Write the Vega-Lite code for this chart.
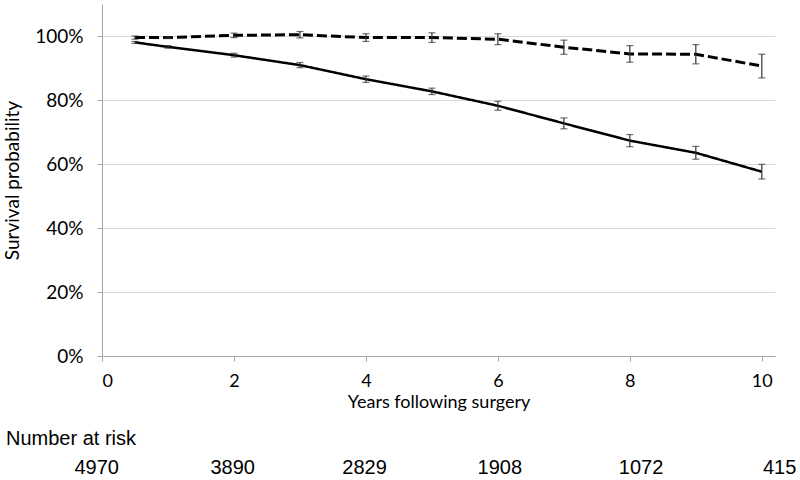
{
  "$schema": "https://vega.github.io/schema/vega-lite/v6.json",
  "padding": {"left": 3, "top": 4, "right": 0, "bottom": 0},
  "background": "white",
  "config": {"view": {"stroke": null}, "concat": {"spacing": 18}},
  "datasets": {
    "surv": [
      {"year": 0.5, "group": "Group A", "s": 0.980, "lo": 0.977, "hi": 0.983},
      {"year": 1, "group": "Group A", "s": 0.966, "lo": 0.962, "hi": 0.970},
      {"year": 2, "group": "Group A", "s": 0.940, "lo": 0.934, "hi": 0.946},
      {"year": 3, "group": "Group A", "s": 0.909, "lo": 0.901, "hi": 0.917},
      {"year": 4, "group": "Group A", "s": 0.865, "lo": 0.855, "hi": 0.875},
      {"year": 5, "group": "Group A", "s": 0.827, "lo": 0.817, "hi": 0.837},
      {"year": 6, "group": "Group A", "s": 0.782, "lo": 0.768, "hi": 0.796},
      {"year": 7, "group": "Group A", "s": 0.727, "lo": 0.710, "hi": 0.744},
      {"year": 8, "group": "Group A", "s": 0.673, "lo": 0.654, "hi": 0.692},
      {"year": 9, "group": "Group A", "s": 0.635, "lo": 0.615, "hi": 0.655},
      {"year": 10, "group": "Group A", "s": 0.576, "lo": 0.553, "hi": 0.599},
      {"year": 0.5, "group": "Group B", "s": 0.995, "lo": 0.990, "hi": 1.000},
      {"year": 1, "group": "Group B", "s": 0.995, "lo": 0.992, "hi": 0.998},
      {"year": 2, "group": "Group B", "s": 1.002, "lo": 0.995, "hi": 1.009},
      {"year": 3, "group": "Group B", "s": 1.004, "lo": 0.994, "hi": 1.014},
      {"year": 4, "group": "Group B", "s": 0.995, "lo": 0.983, "hi": 1.007},
      {"year": 5, "group": "Group B", "s": 0.995, "lo": 0.980, "hi": 1.010},
      {"year": 6, "group": "Group B", "s": 0.990, "lo": 0.973, "hi": 1.007},
      {"year": 7, "group": "Group B", "s": 0.965, "lo": 0.943, "hi": 0.987},
      {"year": 8, "group": "Group B", "s": 0.944, "lo": 0.918, "hi": 0.970},
      {"year": 9, "group": "Group B", "s": 0.943, "lo": 0.913, "hi": 0.973},
      {"year": 10, "group": "Group B", "s": 0.906, "lo": 0.869, "hi": 0.943}
    ],
    "risk": [
      {"pos": -0.08, "n": "4970"},
      {"pos": 1.98, "n": "3890"},
      {"pos": 3.98, "n": "2829"},
      {"pos": 6.03, "n": "1908"},
      {"pos": 8.17, "n": "1072"},
      {"pos": 10.27, "n": "415"}
    ]
  },
  "vconcat": [
    {
      "width": 673,
      "height": 352,
      "data": {"name": "surv"},
      "encoding": {
        "x": {
          "field": "year", "type": "quantitative",
          "scale": {"domain": [0, 10.2], "nice": false, "zero": false},
          "axis": {
            "values": [0, 2, 4, 6, 8, 10], "title": "Years following surgery",
            "grid": false, "domainColor": "#a6a6a6", "tickColor": "#a6a6a6", "tickSize": 5,
            "labelFont": "Lato", "labelFontSize": 18, "labelColor": "#000", "labelPadding": 11,
            "titleFont": "Lato", "titleFontSize": 18, "titleFontWeight": "normal", "titleColor": "#000", "titlePadding": 3
          }
        },
        "y": {
          "field": "s", "type": "quantitative",
          "scale": {"domain": [0, 1.1], "nice": false},
          "axis": {
            "values": [0, 0.2, 0.4, 0.6, 0.8, 1.0], "format": ".0%", "title": "Survival probability",
            "grid": true, "gridColor": "#d9d9d9", "gridWidth": 1,
            "domainColor": "#a6a6a6", "tickColor": "#a6a6a6", "tickSize": 5,
            "labelFont": "Lato", "labelFontSize": 19, "labelColor": "#000", "labelPadding": 14,
            "titleFont": "Lato", "titleFontSize": 19, "titleFontWeight": "normal", "titleColor": "#000", "titlePadding": 12
          }
        }
      },
      "layer": [
        {
          "mark": {"type": "line", "color": "#000"},
          "encoding": {
            "detail": {"field": "group"},
            "strokeDash": {"field": "group", "type": "nominal", "scale": {"domain": ["Group A", "Group B"], "range": [[1, 0], [10, 4]]}, "legend": null},
            "strokeWidth": {"field": "group", "type": "nominal", "scale": {"domain": ["Group A", "Group B"], "range": [2.5, 3]}, "legend": null}
          }
        },
        {
          "mark": {"type": "rule", "color": "#333", "strokeWidth": 1.2},
          "encoding": {"y": {"field": "lo", "type": "quantitative"}, "y2": {"field": "hi"}}
        },
        {
          "mark": {"type": "tick", "orient": "horizontal", "color": "#333", "size": 7, "thickness": 1.2},
          "encoding": {"y": {"field": "lo", "type": "quantitative"}}
        },
        {
          "mark": {"type": "tick", "orient": "horizontal", "color": "#333", "size": 7, "thickness": 1.2},
          "encoding": {"y": {"field": "hi", "type": "quantitative"}}
        }
      ]
    },
    {
      "width": 673,
      "height": 20,
      "data": {"name": "risk"},
      "title": {
        "text": "Number at risk", "anchor": "start", "frame": "group", "dx": -96,
        "font": "Liberation Sans", "fontSize": 20, "fontWeight": "normal", "color": "#000", "offset": 9
      },
      "mark": {"type": "text", "font": "Liberation Sans", "fontSize": 20, "color": "#000", "baseline": "middle", "align": "center"},
      "encoding": {
        "x": {"field": "pos", "type": "quantitative", "scale": {"domain": [0, 10.2], "nice": false, "zero": false}, "axis": null},
        "text": {"field": "n", "type": "nominal"}
      }
    }
  ]
}
